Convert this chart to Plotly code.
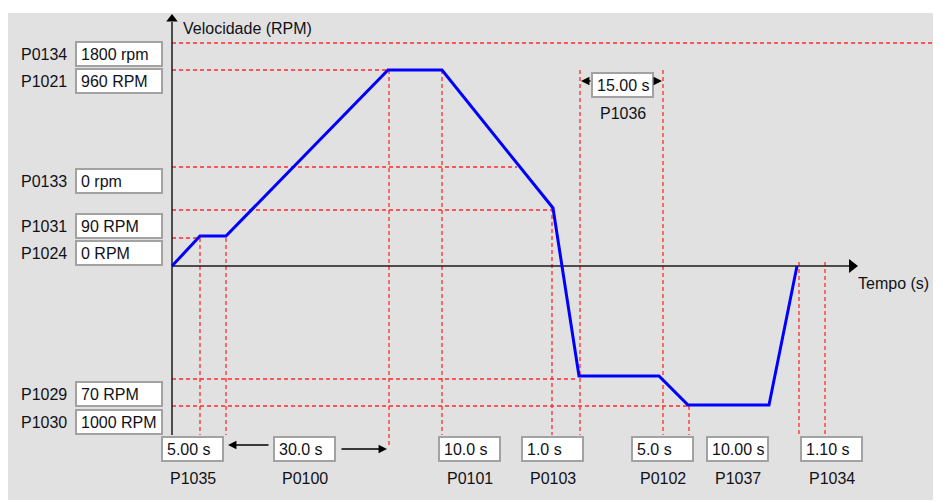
import plotly.graph_objects as go

# ---------------- data (schematic units: time right of the speed axis, speed above the time axis)
profile_time = [0, 28, 54, 216, 270, 381, 407, 487, 516, 597, 625]
profile_speed = [0, 30, 30, 196, 196, 58, -110, -110, -139, -139, 0]

# horizontal guide levels and where they stop
hguide_speed = [223, 196, 99, 56, 28, -113, -140]
hguide_end_time = [761, 216, 345, 380, 28, 406, 517]

# vertical guides: time, top speed, bottom speed
vguide_time = [28, 54, 217, 270, 380, 408, 491, 517, 627, 653]
vguide_top = [28, 28, 196, 196, 58, 196, 196, -140, 4, 4]
vguide_bottom = [-169, -169, -181, -169, -169, -169, -169, -169, -169, -169]

# speed parameters (left)
speed_params = ["P0134", "P1021", "P0133", "P1031", "P1024", "P1029", "P1030"]
speed_values = ["1800 rpm", "960 RPM", "0 rpm", "90 RPM", "0 RPM", "70 RPM", "1000 RPM"]

# time parameters (bottom)
time_params = ["P1035", "P0100", "P0101", "P0103", "P0102", "P1037", "P1034"]
time_values = ["5.00 s", "30.0 s", "10.0 s", "1.0 s", "5.0 s", "10.00 s", "1.10 s"]
extra_param = "P1036"
extra_value = "15.00 s"

axis_x_title = "Tempo (s)"
axis_y_title = "Velocidade (RPM)"

# ---------------- layout helpers (page pixel -> schematic units)
X0, Y0 = 172, 266
PAGE_OFF = 8  # the page body margin
def T(px):
    return px - X0
def V(py):
    return Y0 - py

FONT = "Liberation Sans, Arial, sans-serif"
TXT = "#111118"
RED = "#ff2a2a"

fig = go.Figure()

# horizontal guides
hx, hy = [], []
for s, e in zip(hguide_speed, hguide_end_time):
    hx += [0, e, None]
    hy += [s, s, None]
fig.add_trace(go.Scatter(x=hx, y=hy, mode="lines", hoverinfo="skip",
                         line=dict(color=RED, width=1.3, dash="4px,3px")))
# vertical guides
vx, vy = [], []
for t, top, bot in zip(vguide_time, vguide_top, vguide_bottom):
    vx += [t, t, None]
    vy += [top, bot, None]
fig.add_trace(go.Scatter(x=vx, y=vy, mode="lines", hoverinfo="skip",
                         line=dict(color=RED, width=1.3, dash="4px,3px")))

# axes
fig.add_trace(go.Scatter(x=[0, 0, None, 0, T(850)], y=[V(435), V(22), None, 0, 0],
                         mode="lines", hoverinfo="skip",
                         line=dict(color="#1a1a1a", width=1.5)))
fig.add_trace(go.Scatter(x=[0], y=[V(19)], mode="markers", hoverinfo="skip",
                         marker=dict(symbol="triangle-up", size=10, color="#000")))
fig.add_trace(go.Scatter(x=[T(852)], y=[0], mode="markers", hoverinfo="skip",
                         marker=dict(symbol="triangle-right", size=12, color="#000")))

# speed profile
fig.add_trace(go.Scatter(x=profile_time, y=profile_speed, mode="lines",
                         line=dict(color="#0000ff", width=3), hoverinfo="skip"))

shapes = [dict(type="rect", layer="below", x0=T(8), x1=T(941), y0=V(13), y1=V(500),
               fillcolor="#e1e1e1", line=dict(width=0))]
annotations = []

def box(left, top, w, h, value):
    shapes.append(dict(type="rect", layer="above", x0=T(left), x1=T(left + w),
                       y0=V(top), y1=V(top + h), fillcolor="white",
                       line=dict(color="#a2a2a2", width=2)))
    annotations.append(dict(x=T(left + 3), y=V(top + h / 2), text=value, showarrow=False,
                            xanchor="left", yanchor="middle",
                            font=dict(family=FONT, size=16, color=TXT)))

left_tops = [42, 69, 169, 214, 241, 382, 410]
for name, val, top in zip(speed_params, speed_values, left_tops):
    box(76, top, 86, 24, val)
    annotations.append(dict(x=T(69), y=V(top + 12), text=name, showarrow=False,
                            xanchor="right", yanchor="middle",
                            font=dict(family=FONT, size=16, color=TXT)))

bottom_lefts = [162, 274, 439, 522, 632, 707, 801]
for name, val, left in zip(time_params, time_values, bottom_lefts):
    box(left, 437, 61, 24, val)
    annotations.append(dict(x=T(left + 30.5), y=V(478), text=name, showarrow=False,
                            xanchor="center", yanchor="middle",
                            font=dict(family=FONT, size=16, color=TXT)))

box(592, 73, 61, 24, extra_value)
annotations.append(dict(x=T(622.5), y=V(113), text=extra_param, showarrow=False,
                        xanchor="center", yanchor="middle",
                        font=dict(family=FONT, size=16, color=TXT)))

def arrow(head, tail, yy):
    annotations.append(dict(x=T(head), y=V(yy), ax=T(tail), ay=V(yy), axref="x", ayref="y",
                            xref="x", yref="y", text="", showarrow=True, arrowhead=2,
                            arrowsize=1.3, arrowwidth=1.3, arrowcolor="#000", standoff=0))

arrow(228, 270, 445)
arrow(387, 340, 449)
arrow(581, 592, 81)
arrow(662, 653, 81)

annotations.append(dict(x=T(181), y=V(28), text=axis_y_title, showarrow=False,
                        xanchor="left", yanchor="middle",
                        font=dict(family=FONT, size=16, color=TXT)))
annotations.append(dict(x=T(856), y=V(283), text=axis_x_title, showarrow=False,
                        xanchor="left", yanchor="middle",
                        font=dict(family=FONT, size=16, color=TXT)))

# the figure sits PAGE_OFF px from the page's top-left corner
fig.update_layout(
    width=941 - PAGE_OFF, height=502 - PAGE_OFF, margin=dict(l=0, r=0, t=0, b=0),
    paper_bgcolor="white", plot_bgcolor="rgba(0,0,0,0)",
    showlegend=False, shapes=shapes, annotations=annotations,
    xaxis=dict(range=[T(PAGE_OFF), T(941)], visible=False, fixedrange=True),
    yaxis=dict(range=[V(502), V(PAGE_OFF)], visible=False, fixedrange=True),
)

fig.write_html("out.html", config=dict(displayModeBar=False))
